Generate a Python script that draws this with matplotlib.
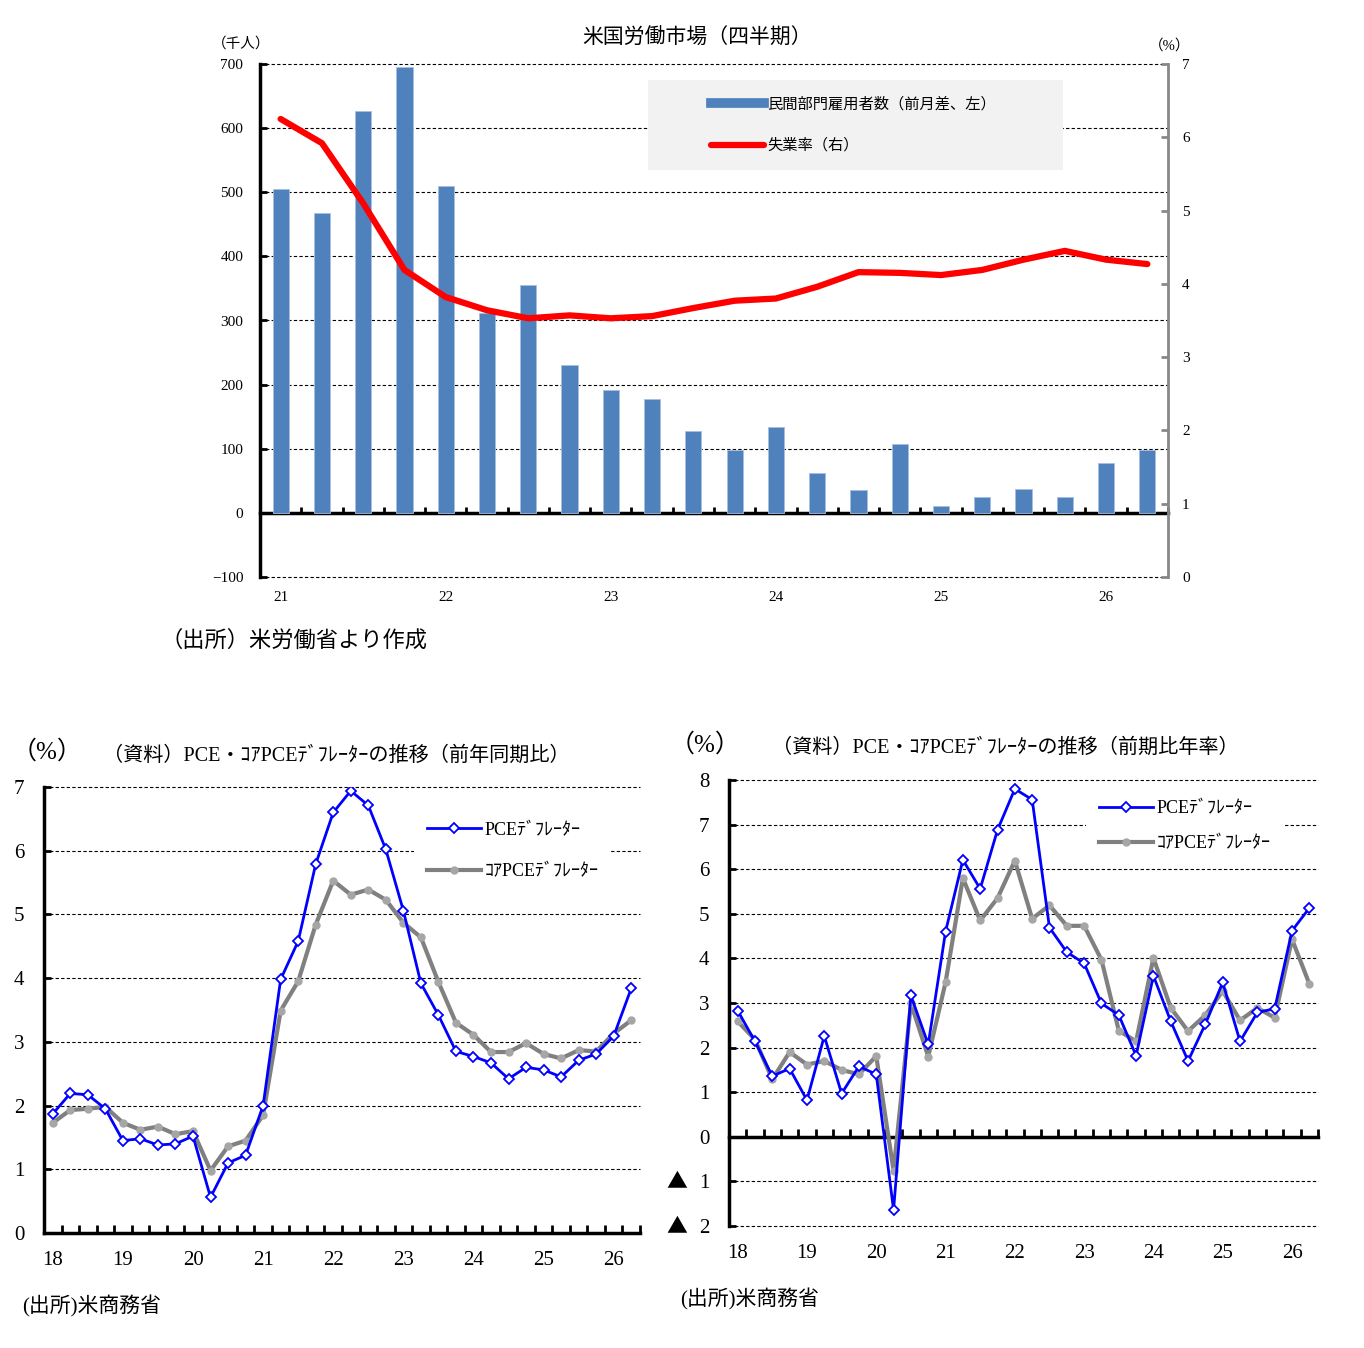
import matplotlib.pyplot as plt
import matplotlib.transforms as mtransforms
import numpy as np
from matplotlib.lines import Line2D
from matplotlib.patches import Rectangle

plt.rcParams['font.family'] = ['Liberation Serif', 'Noto Sans CJK JP', 'DejaVu Sans']

# ---- top chart: US labour market, quarterly 2021Q1 - 2026Q2
payrolls = [505, 467, 627, 695, 510, 311, 356, 231, 192, 178, 127,
            98, 134, 62, 35, 107, 10, 24, 37, 25, 78, 98]
unemp_rate = [6.25, 5.92, 5.10, 4.19, 3.82, 3.64, 3.53, 3.57, 3.53, 3.56, 3.67,
              3.77, 3.80, 3.96, 4.16, 4.15, 4.12, 4.19, 4.33, 4.45, 4.33, 4.27]
top_years = ['21', '22', '23', '24', '25', '26']

# ---- bottom charts: PCE deflators, quarterly 2018Q1 - 2026Q2
pce_yoy = [1.87, 2.19, 2.17, 1.95, 1.45, 1.48, 1.38, 1.40, 1.52, 0.56, 1.10, 1.22,
           2.00, 3.98, 4.58, 5.79, 6.60, 6.94, 6.71, 6.02, 5.06, 3.92, 3.42, 2.85,
           2.77, 2.67, 2.42, 2.60, 2.56, 2.45, 2.71, 2.81, 3.09, 3.84]
core_yoy = [1.73, 1.93, 1.95, 1.98, 1.73, 1.62, 1.67, 1.55, 1.60, 0.98, 1.36, 1.45,
            1.85, 3.49, 3.95, 4.84, 5.53, 5.31, 5.39, 5.23, 4.87, 4.64, 3.94, 3.30,
            3.11, 2.84, 2.84, 2.98, 2.81, 2.74, 2.87, 2.85, 3.13, 3.34]
pce_qoq = [2.83, 2.14, 1.36, 1.53, 0.82, 2.26, 0.97, 1.58, 1.40, -1.64, 3.17, 2.07,
           4.60, 6.21, 5.56, 6.88, 7.80, 7.56, 4.69, 4.14, 3.89, 2.99, 2.73, 1.82,
           3.61, 2.59, 1.70, 2.53, 3.46, 2.14, 2.79, 2.87, 4.62, 5.13]
core_qoq = [2.59, 2.18, 1.29, 1.90, 1.62, 1.70, 1.50, 1.40, 1.81, -0.76, 2.99, 1.80,
            3.46, 5.80, 4.85, 5.35, 6.19, 4.89, 5.19, 4.73, 4.73, 3.97, 2.38, 2.14,
            4.01, 2.89, 2.37, 2.73, 3.27, 2.61, 2.89, 2.67, 4.43, 3.43]
bottom_years = ['18', '19', '20', '21', '22', '23', '24', '25', '26']

W, H = 1364, 1348
fig = plt.figure(figsize=(W / 100, H / 100), dpi=100)


def fx(px):
    return px / W


def fy(py):
    return 1 - py / H


def rect(x0, y0, x1, y1):
    # pixel box (top-left origin) -> figure rect
    return [fx(x0), fy(y1), fx(x1) - fx(x0), fy(y0) - fy(y1)]


grid_kw = dict(color='black', lw=0.8, linestyle=(0, (3, 2)), clip_on=False)

# ================= top chart =================
ax = fig.add_axes(rect(260, 64, 1168, 577))
n = len(payrolls)
x = np.arange(n)
ax.bar(x, payrolls, width=0.39, color='#4f81bd', edgecolor='#a7bfdf', lw=0.6, zorder=2)
ax.set_xlim(-0.5, n - 0.5)
ax.set_ylim(-100, 700)
ax.set_yticks(np.arange(-100, 701, 100))
ax.yaxis.grid(True, **grid_kw)
ax.set_axisbelow(True)
ax.set_xticks(x[::4], top_years)
ax.tick_params(axis='x', length=0, pad=10, labelsize=11)
ax.tick_params(axis='y', direction='in', length=5, width=2, pad=12, labelsize=11)
ax.set_yticklabels(['−100'] + [str(v) for v in range(0, 701, 100)])
for s in ['top', 'right', 'bottom']:
    ax.spines[s].set_visible(False)
ax.spines['left'].set_linewidth(2.5)

zero = ax.secondary_xaxis(100 / 800)
zero.set_xticks(np.arange(-0.5, n, 1))
zero.tick_params(axis='x', direction='in', length=4, width=2, labelbottom=False)
zero.spines['bottom'].set_linewidth(2.5)

ax2 = ax.twinx()
ax2.plot(x, unemp_rate, color='#ff0000', lw=4.5, solid_capstyle='round', zorder=3)
ax2.set_ylim(0, 7)
ax2.set_yticks(range(0, 8))
ax2.tick_params(axis='y', direction='in', length=5, width=2, color='#888888', pad=10, labelsize=11)
for s in ['top', 'left', 'bottom']:
    ax2.spines[s].set_visible(False)
ax2.spines['right'].set_color('#888888')
ax2.spines['right'].set_linewidth(2)

ax2.add_patch(Rectangle((fx(648), fy(170)), fx(1063) - fx(648), fy(80) - fy(170),
                        transform=fig.transFigure, facecolor='#f2f2f2', edgecolor='none',
                        zorder=5, clip_on=False))
top_handles = [Line2D([], [], color='#4f81bd', lw=7),
               Line2D([], [], color='#ff0000', lw=4.5, solid_capstyle='round')]
leg = ax2.legend(top_handles, ['民間部門雇用者数（前月差、左）', '失業率（右）'],
                 loc='center left', bbox_to_anchor=(fx(711), fy(125)),
                 bbox_transform=fig.transFigure, frameon=False, fontsize=11,
                 handlelength=3.5, handletextpad=0.2, labelspacing=1.75,
                 borderpad=0, borderaxespad=0)
leg.set_zorder(6)

fig.text(fx(697), fy(39), '米国労働市場（四半期）', ha='center', va='center', fontsize=15)
fig.text(fx(241), fy(44), '（千人）', ha='center', va='center', fontsize=10.5)
fig.text(fx(1170), fy(46), '（%）', ha='center', va='center', fontsize=10.5)
fig.text(fx(160), fy(641), '（出所）米労働省より作成', ha='left', va='center', fontsize=16)


# ================= bottom charts =================
def inflation_panel(box, pce, core, ymin, ymax, zero_line, legend_xy, spacing):
    a = fig.add_axes(rect(*box))
    m = len(pce)
    q = np.arange(m)
    a.plot(q, core, color='#808080', lw=3, marker='o', ms=5, mfc='#a6a6a6', mec='#a6a6a6',
           zorder=3, label='ｺｱPCEﾃﾞﾌﾚｰﾀｰ')
    a.plot(q, pce, color='#0000ff', lw=2, marker='D', ms=5.5, mfc='white', mec='#0000ff',
           mew=1.3, zorder=4, label='PCEﾃﾞﾌﾚｰﾀｰ')
    a.set_xlim(-0.5, m - 0.5)
    a.set_ylim(ymin, ymax)
    ticks = list(range(ymin, ymax + 1))
    a.set_yticks(ticks, [str(abs(v)) for v in ticks])
    a.yaxis.grid(True, **grid_kw)
    a.set_axisbelow(True)
    a.set_xticks(q[::4], bottom_years)
    a.tick_params(axis='x', length=0, pad=13, labelsize=15)
    a.tick_params(axis='y', direction='in', length=5, width=2, pad=14, labelsize=15)
    for s in ['top', 'right', 'bottom']:
        a.spines[s].set_visible(False)
    a.spines['left'].set_linewidth(2.5)

    # negative values are written with a leading triangle
    tr = mtransforms.blended_transform_factory(fig.transFigure, a.transData)
    for v in ticks:
        if v < 0:
            a.text(fx(box[0] - 52), v, '▲', transform=tr, ha='center', va='center',
                   fontsize=15, family=['Noto Sans CJK JP'])

    z = a.secondary_xaxis(zero_line)
    z.set_xticks(np.arange(-0.5, m, 1))
    z.tick_params(axis='x', direction='in', length=6, width=2, labelbottom=False)
    z.spines['bottom'].set_linewidth(2.5)

    h, l = a.get_legend_handles_labels()
    a.legend(h[::-1], l[::-1], loc='center left', bbox_to_anchor=legend_xy,
             bbox_transform=fig.transFigure, fontsize=13, frameon=True,
             facecolor='white', edgecolor='none', framealpha=1, fancybox=False,
             handlelength=3.0, handletextpad=0.2, labelspacing=spacing,
             borderpad=0.7, borderaxespad=0)
    return a


inflation_panel((44, 787, 640, 1233), pce_yoy, core_yoy, 0, 7, 0.0,
                (fx(414), fy(851)), 1.35)
inflation_panel((729, 780, 1318, 1226), pce_qoq, core_qoq, -2, 8, 0.2,
                (fx(1086), fy(826)), 1.0)

fig.text(fx(47), fy(752), '（%）', ha='center', va='center', fontsize=18)
fig.text(fx(103), fy(756), '（資料）PCE・ｺｱPCEﾃﾞﾌﾚｰﾀｰの推移（前年同期比）',
         ha='left', va='center', fontsize=14.5)
fig.text(fx(705), fy(745), '（%）', ha='center', va='center', fontsize=18)
fig.text(fx(772), fy(748), '（資料）PCE・ｺｱPCEﾃﾞﾌﾚｰﾀｰの推移（前期比年率）',
         ha='left', va='center', fontsize=14.5)
fig.text(fx(22), fy(1306), '(出所)米商務省', ha='left', va='center', fontsize=15)
fig.text(fx(680), fy(1299), '(出所)米商務省', ha='left', va='center', fontsize=15)

fig.savefig('out.png', dpi=100)
